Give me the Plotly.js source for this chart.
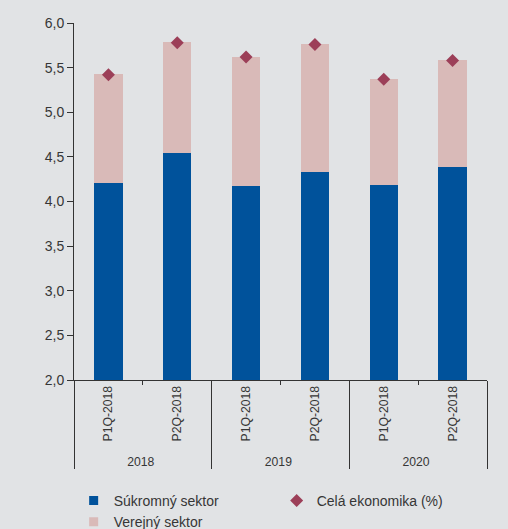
<!DOCTYPE html>
<html>
<head>
<meta charset="utf-8">
<script src="https://cdn.plot.ly/plotly-3.0.1.min.js"></script>
<style>html,body{margin:0;padding:0;background:#e1e3e5;}#chart{width:508px;height:529px;}</style>
</head>
<body>
<div id="chart"></div>
<script>
var years = ['2018', '2018', '2019', '2019', '2020', '2020'];
var periods = ['P1Q-2018', 'P2Q-2018', 'P1Q-2018', 'P2Q-2018', 'P1Q-2018', 'P2Q-2018'];
var sukromny = [4.21, 4.54, 4.17, 4.33, 4.18, 4.39];
var verejny = [1.22, 1.25, 1.45, 1.435, 1.19, 1.195];
var celaEkonomika = [5.42, 5.78, 5.62, 5.76, 5.37, 5.58];

var BLUE = '#00529b', PINK = '#d9bab8', WINE = '#9c3f58', TXT = '#363636';
var font = 'Liberation Sans, Arial, sans-serif';

var traces = [
  {type: 'bar', x: [years, periods], y: sukromny, name: 'Súkromný sektor',
   marker: {color: BLUE}, showlegend: false, hoverinfo: 'none'},
  {type: 'bar', x: [years, periods], y: verejny, name: 'Verejný sektor',
   marker: {color: PINK}, showlegend: false, hoverinfo: 'none'},
  {type: 'scatter', mode: 'markers', x: [years, periods], y: celaEkonomika,
   name: 'Celá ekonomika (%)', showlegend: false,
   marker: {symbol: 'diamond', size: 10, color: WINE}},
  // legend entries
  {type: 'scatter', mode: 'markers', x: [[years[0]], [periods[0]]], y: [null],
   name: 'Súkromný sektor', marker: {symbol: 'square', size: 9, color: BLUE}},
  {type: 'scatter', mode: 'markers', x: [[years[0]], [periods[0]]], y: [null],
   name: 'Celá ekonomika (%)', marker: {symbol: 'diamond', size: 10, color: WINE}},
  {type: 'scatter', mode: 'markers', x: [[years[0]], [periods[0]]], y: [null],
   name: 'Verejný sektor', marker: {symbol: 'square', size: 9, color: PINK}}
];

var layout = {
  width: 508, height: 529,
  paper_bgcolor: '#e1e3e5', plot_bgcolor: '#e1e3e5',
  margin: {l: 74, r: 21, t: 23, b: 149},
  barmode: 'stack', bargap: 0.59,
  separators: ',.',
  font: {family: font, color: TXT, size: 13},
  showlegend: true,
  legend: {orientation: 'h', x: 0.145, xref: 'container', xanchor: 'left',
           y: 1 - 485/529, yref: 'container', yanchor: 'top',
           entrywidth: 158, traceorder: 'normal',
           font: {size: 14, color: TXT}, bgcolor: 'rgba(0,0,0,0)', tracegroupgap: 0},
  xaxis: {type: 'multicategory', showline: true, linecolor: '#333', linewidth: 1,
          ticks: 'outside', tickson: 'boundaries', ticklen: 4, tickcolor: '#333',
          showdividers: true, dividercolor: '#333', dividerwidth: 1,
          tickangle: -90, tickfont: {size: 12.2, color: TXT},
          showgrid: false, zeroline: false, fixedrange: true},
  yaxis: {range: [2, 6], dtick: 0.5, tick0: 2, tickformat: '.1f',
          showline: true, linecolor: '#333', linewidth: 1,
          ticks: 'outside', ticklen: 6, tickcolor: '#333',
          tickfont: {size: 14, color: TXT},
          showgrid: false, zeroline: false, fixedrange: true}
};

Plotly.newPlot('chart', traces, layout, {displayModeBar: false, staticPlot: true});
</script>
</body>
</html>
